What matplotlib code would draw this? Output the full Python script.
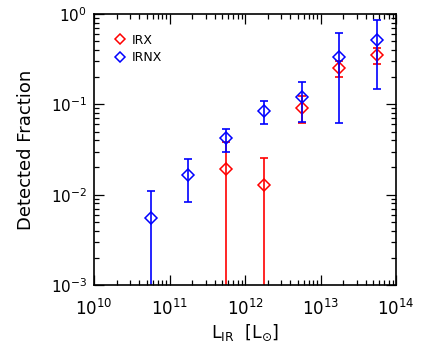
import numpy as np
import matplotlib
matplotlib.use("Agg")
import matplotlib.pyplot as plt
from matplotlib.ticker import LogLocator, NullFormatter

plt.rcParams['font.family'] = ['DejaVu Sans']
plt.rcParams['mathtext.fontset'] = 'dejavusans'

# IRNX (blue)
irnx_logL = [10.75, 11.25, 11.75, 12.25, 12.75, 13.25, 13.75]
irnx_frac = [0.0055, 0.0164, 0.042, 0.085, 0.121, 0.337, 0.51]
irnx_hi = [0.0111, 0.0246, 0.054, 0.110, 0.178, 0.61, 0.86]
irnx_lo = [1e-4, 0.0083, 0.0296, 0.0605, 0.064, 0.0615, 0.148]

# IRX (red)
irx_logL = [11.75, 12.25, 12.75, 13.25, 13.75]
irx_frac = [0.0194, 0.0128, 0.090, 0.25, 0.35]
irx_hi = [0.0385, 0.0256, 0.125, 0.30, 0.42]
irx_lo = [1e-4, 1e-4, 0.0616, 0.202, 0.28]

fig = plt.figure(figsize=(4.36, 3.58), dpi=100)
ax = fig.add_axes([94/436, 1-285/358, 302/436, 271/358])

def draw(logL, frac, hi, lo, color, label):
    x = 10**np.array(logL)
    y = np.array(frac)
    yerr = [y - np.array(lo), np.array(hi) - y]
    ax.errorbar(x, y, yerr=yerr, fmt='none', ecolor=color, elinewidth=1.2,
                capsize=2.6, capthick=1.2)
    ax.plot(x, y, linestyle='none', marker='D', markersize=6,
            markerfacecolor='none', markeredgecolor=color, markeredgewidth=1.1,
            label=label)

draw(irx_logL, irx_frac, irx_hi, irx_lo, 'red', 'IRX')
draw(irnx_logL, irnx_frac, irnx_hi, irnx_lo, 'blue', 'IRNX')

ax.set_xscale('log')
ax.set_yscale('log')
ax.set_xlim(1e10, 1e14)
ax.set_ylim(1e-3, 1e0)
ax.xaxis.set_major_locator(LogLocator(base=10, numticks=10))
ax.xaxis.set_minor_locator(LogLocator(base=10, subs=np.arange(2, 10), numticks=20))
ax.yaxis.set_minor_locator(LogLocator(base=10, subs=np.arange(2, 10), numticks=20))
ax.xaxis.set_minor_formatter(NullFormatter())
ax.yaxis.set_minor_formatter(NullFormatter())

ax.tick_params(which='both', direction='in', top=True, right=True, width=0.9)
ax.tick_params(which='major', length=7)
ax.tick_params(which='minor', length=3.5)
ax.tick_params(axis='x', which='major', labelsize=12, pad=10)
ax.tick_params(axis='y', which='major', labelsize=11, pad=5)
for s in ax.spines.values():
    s.set_linewidth(1.2)

ax.set_ylabel('Detected Fraction', fontsize=13, labelpad=11)
ax.set_xlabel(r'L$_{\mathrm{IR}}$  [L$_{\odot}$]', fontsize=12.5, labelpad=3)

leg = ax.legend(loc='upper left', bbox_to_anchor=(0.045, 0.955), frameon=False,
                fontsize=9, handlelength=0.8, handletextpad=0.5,
                labelspacing=0.35, borderaxespad=0.2)
for h in leg.legend_handles:
    h.set_markersize(5)

fig.savefig('out.png', dpi=100)
